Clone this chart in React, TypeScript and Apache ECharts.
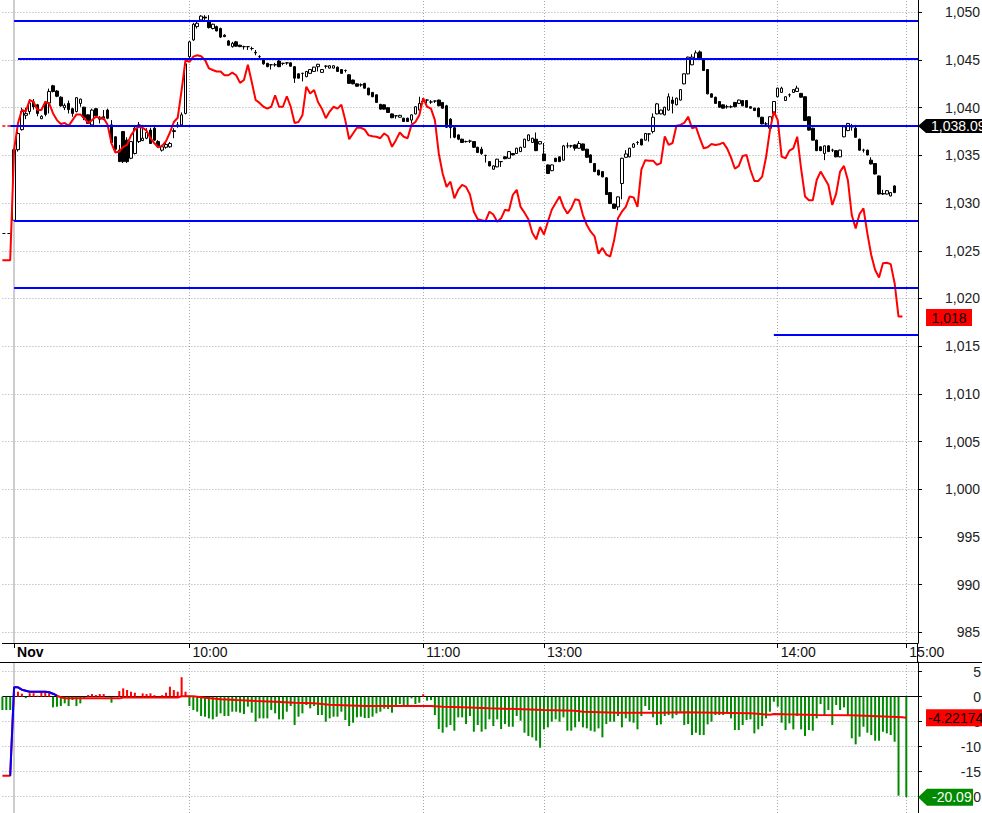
import React, { useEffect, useRef } from 'react';
import * as echarts from 'echarts';

// ---- axis slots (one slot per bar) ----
const SLOT_COUNT = 236;
const categories = Array.from({ length: SLOT_COUNT }, (_, i) => String(i));
const LAST_SLOT = SLOT_COUNT - 1;

// time tick labels: [slot index, label]
const timeTicks: [number, string][] = [
  [3, 'Nov'],
  [48, '10:00'],
  [108, '11:00'],
  [139, '13:00'],
  [199, '14:00'],
  [232, '15:00'],
];
const DAY_START = 3;

// ---- candles: [open, close, low, high], first one at slot DAY_START ----
const candles: [number, number, number, number][] = [
  [1028.2, 1035.6, 1028.2, 1035.7], [1035.6, 1037.3, 1035.4, 1037.5], [1037.7, 1039.6, 1037.6, 1040.0], [1039.2, 1039.4, 1038.8, 1040.0], [1039.6, 1040.5, 1039.3, 1040.9], // 3-7
  [1040.6, 1040.1, 1039.8, 1040.9], [1040.3, 1039.4, 1039.1, 1040.4], [1038.85, 1039.1, 1038.8, 1039.2], [1040.6, 1039.3, 1039.1, 1040.7], [1040.5, 1041.7, 1039.4, 1042.0], // 8-12
  [1042.3, 1041.7, 1041.6, 1042.4], [1041.75, 1041.2, 1041.1, 1041.85], [1041.1, 1040.2, 1040.1, 1041.2], [1040.0, 1040.25, 1039.75, 1040.45], [1040.45, 1039.8, 1039.4, 1040.75], // 13-17
  [1039.9, 1039.4, 1039.05, 1040.0], [1039.6, 1041.05, 1039.5, 1041.1], [1040.45, 1040.9, 1040.1, 1040.95], [1040.05, 1038.95, 1038.7, 1040.1], [1039.25, 1038.35, 1038.3, 1039.3], // 18-22
  [1038.2, 1039.75, 1038.1, 1039.9], [1039.9, 1039.15, 1039.0, 1039.95], [1038.8, 1039.0, 1038.35, 1039.1], [1039.05, 1038.8, 1038.7, 1039.75], [1039.75, 1038.9, 1038.8, 1039.9], // 23-27
  [1038.2, 1036.35, 1036.25, 1038.7], [1036.95, 1035.65, 1035.5, 1037.0], [1035.55, 1034.35, 1034.3, 1036.1], [1037.5, 1034.35, 1034.2, 1037.5], [1036.6, 1034.35, 1034.2, 1036.9], // 28-32
  [1034.7, 1036.45, 1034.6, 1036.5], [1035.2, 1037.85, 1035.1, 1038.0], [1036.45, 1038.2, 1036.3, 1038.5], [1036.55, 1036.8, 1036.5, 1038.2], [1036.8, 1037.4, 1036.7, 1037.85], // 33-37
  [1037.65, 1036.25, 1036.2, 1037.9], [1037.85, 1036.6, 1036.5, 1038.0], [1036.45, 1035.9, 1035.8, 1036.6], [1035.55, 1035.9, 1035.4, 1036.1], [1035.85, 1036.15, 1035.7, 1036.3], // 38-42
  [1035.9, 1036.25, 1035.8, 1036.4], [1037.5, 1037.6, 1036.8, 1037.85], [1038.1, 1038.2, 1037.9, 1038.5], [1038.2, 1039.25, 1038.0, 1039.5], [1039.4, 1044.6, 1039.3, 1044.7], // 43-47
  [1045.35, 1046.9, 1045.0, 1047.0], [1047.1, 1048.75, 1047.0, 1048.9], [1048.5, 1048.85, 1048.3, 1049.0], [1049.2, 1049.6, 1049.1, 1049.7], [1049.5, 1049.4, 1049.2, 1049.7], // 48-52
  [1049.0, 1048.4, 1048.3, 1049.7], [1048.3, 1048.75, 1048.2, 1048.8], [1048.5, 1048.05, 1048.0, 1048.6], [1048.3, 1047.4, 1047.3, 1048.4], [1047.6, 1047.45, 1047.4, 1047.7], // 53-57
  [1047.0, 1046.55, 1046.5, 1047.1], [1046.4, 1046.75, 1046.3, 1046.9], [1046.9, 1046.45, 1046.4, 1047.0], [1046.55, 1046.4, 1046.35, 1046.6], [1046.4, 1046.4, 1046.1, 1046.5], // 58-62
  [1046.4, 1046.4, 1046.05, 1046.45], [1046.2, 1046.2, 1046.0, 1046.4], [1045.8, 1045.75, 1045.5, 1046.05], [1045.35, 1045.35, 1045.2, 1045.5], [1045.0, 1044.6, 1044.5, 1045.1], // 63-67
  [1044.65, 1044.3, 1044.25, 1044.7], [1044.5, 1044.5, 1044.0, 1044.55], [1044.5, 1044.5, 1044.3, 1044.7], [1044.9, 1044.3, 1044.25, 1045.0], [1044.65, 1044.65, 1044.45, 1044.7], // 68-72
  [1044.7, 1044.7, 1044.5, 1044.75], [1044.7, 1044.35, 1044.3, 1044.75], [1044.3, 1043.1, 1042.6, 1044.35], [1043.55, 1043.1, 1043.05, 1043.6], [1043.6, 1043.6, 1042.75, 1043.65], // 73-77
  [1043.25, 1043.8, 1043.2, 1043.85], [1043.6, 1044.0, 1043.55, 1044.05], [1043.8, 1044.25, 1043.75, 1044.3], [1044.3, 1044.55, 1043.8, 1044.6], [1043.7, 1044.0, 1043.65, 1044.05], // 78-82
  [1044.35, 1044.35, 1044.1, 1044.45], [1044.15, 1044.4, 1044.1, 1044.45], [1044.15, 1044.4, 1044.1, 1044.45], [1044.25, 1043.8, 1043.75, 1044.3], [1044.0, 1043.6, 1043.55, 1044.05], // 83-87
  [1043.9, 1043.9, 1043.7, 1044.0], [1043.45, 1042.55, 1042.5, 1043.5], [1042.9, 1042.5, 1042.45, 1042.95], [1042.5, 1042.25, 1042.2, 1042.55], [1042.4, 1042.4, 1042.2, 1042.55], // 88-92
  [1042.55, 1042.05, 1042.0, 1042.6], [1042.05, 1041.35, 1041.3, 1042.1], [1041.6, 1041.15, 1041.1, 1041.65], [1041.35, 1040.55, 1040.5, 1041.4], [1040.35, 1039.85, 1039.8, 1040.4], // 93-97
  [1040.3, 1039.85, 1039.8, 1040.35], [1040.0, 1039.5, 1039.45, 1040.05], [1039.35, 1038.95, 1038.9, 1039.4], [1039.15, 1039.15, 1038.85, 1039.2], [1039.0, 1039.2, 1038.95, 1039.25], // 98-102
  [1038.9, 1038.55, 1038.5, 1038.95], [1038.9, 1038.55, 1038.5, 1038.95], [1038.7, 1039.25, 1038.35, 1039.3], [1039.35, 1040.1, 1039.3, 1040.15], [1039.75, 1040.45, 1039.7, 1041.15], // 103-107
  [1040.65, 1040.65, 1040.4, 1041.0], [1040.8, 1040.8, 1040.45, 1040.85], [1040.6, 1040.6, 1040.4, 1040.8], [1040.7, 1040.7, 1040.5, 1040.75], [1040.8, 1040.2, 1040.15, 1040.85], // 108-112
  [1040.55, 1039.95, 1039.9, 1040.6], [1040.2, 1037.95, 1037.9, 1040.3], [1038.8, 1037.9, 1036.8, 1038.9], [1037.9, 1036.9, 1036.8, 1038.0], [1037.15, 1036.7, 1036.6, 1037.2], // 113-117
  [1036.7, 1036.35, 1036.3, 1036.75], [1036.45, 1036.45, 1036.35, 1036.55], [1036.5, 1036.5, 1036.3, 1036.65], [1036.45, 1035.85, 1035.8, 1036.5], [1035.85, 1035.3, 1035.25, 1035.9], // 118-122
  [1035.65, 1035.2, 1035.05, 1035.9], [1035.0, 1035.0, 1034.25, 1035.05], [1034.35, 1033.9, 1033.85, 1034.4], [1033.55, 1033.9, 1033.5, 1033.95], [1033.8, 1034.6, 1033.75, 1034.65], // 123-127
  [1034.35, 1034.35, 1033.8, 1034.4], [1034.85, 1034.65, 1034.6, 1034.9], [1034.7, 1035.4, 1034.65, 1035.45], [1035.2, 1035.05, 1035.0, 1035.25], [1035.2, 1035.75, 1035.15, 1035.8], // 128-132
  [1035.4, 1035.85, 1035.35, 1035.9], [1035.85, 1036.7, 1035.8, 1036.75], [1036.55, 1037.15, 1036.5, 1037.2], [1036.35, 1036.8, 1036.3, 1036.85], [1036.7, 1035.5, 1035.45, 1037.4], // 133-137
  [1036.2, 1036.45, 1036.15, 1036.5], [1035.15, 1034.45, 1034.4, 1036.3], [1034.0, 1033.1, 1033.05, 1034.05], [1033.4, 1034.0, 1033.35, 1034.05], [1034.7, 1034.35, 1034.3, 1034.75], // 138-142
  [1034.85, 1034.35, 1034.3, 1034.9], [1034.5, 1036.0, 1034.45, 1036.1], [1036.0, 1036.0, 1035.75, 1036.35], [1036.0, 1036.0, 1035.8, 1036.1], [1036.1, 1035.75, 1035.5, 1036.15], // 143-147
  [1035.75, 1036.25, 1035.7, 1036.5], [1036.2, 1035.55, 1035.5, 1036.25], [1035.65, 1034.8, 1034.75, 1035.7], [1035.05, 1034.25, 1034.2, 1035.1], [1034.15, 1033.3, 1033.25, 1034.2], // 148-152
  [1033.45, 1032.95, 1032.9, 1033.5], [1033.3, 1032.75, 1032.7, 1033.35], [1032.65, 1030.9, 1030.85, 1032.7], [1031.1, 1029.95, 1029.9, 1031.15], [1029.9, 1029.45, 1029.4, 1029.95], // 153-157
  [1029.6, 1030.65, 1029.25, 1030.7], [1032.05, 1034.7, 1030.4, 1034.75], [1034.8, 1035.15, 1034.75, 1035.55], [1034.85, 1035.75, 1034.8, 1035.8], [1035.85, 1036.2, 1035.8, 1036.3], // 158-162
  [1036.35, 1036.35, 1036.1, 1036.5], [1036.7, 1036.1, 1036.05, 1036.75], [1036.6, 1037.3, 1036.55, 1037.35], [1037.25, 1037.25, 1036.45, 1037.3], [1037.5, 1039.0, 1037.3, 1039.4], // 163-167
  [1039.35, 1040.4, 1039.3, 1040.5], [1039.35, 1039.75, 1039.3, 1039.8], [1039.25, 1040.05, 1039.2, 1040.1], [1039.75, 1041.15, 1039.7, 1041.5], [1040.8, 1040.45, 1039.4, 1041.15], // 168-172
  [1040.3, 1041.0, 1040.25, 1041.05], [1040.8, 1041.9, 1040.75, 1041.95], [1042.5, 1043.55, 1042.45, 1043.6], [1043.55, 1045.3, 1043.5, 1045.35], [1044.5, 1045.3, 1044.45, 1045.6], // 173-177
  [1045.05, 1045.75, 1045.0, 1046.0], [1045.85, 1045.05, 1045.0, 1046.0], [1045.05, 1043.9, 1043.85, 1045.1], [1044.0, 1041.45, 1041.4, 1044.05], [1041.45, 1041.1, 1041.05, 1041.5], // 178-182
  [1041.1, 1040.45, 1040.4, 1041.15], [1040.65, 1040.05, 1040.0, 1040.7], [1040.3, 1039.95, 1039.9, 1040.35], [1040.1, 1040.1, 1039.9, 1040.3], [1040.1, 1040.1, 1039.95, 1040.25], // 183-187
  [1040.55, 1040.1, 1040.05, 1040.6], [1040.45, 1040.8, 1040.4, 1040.85], [1040.75, 1040.2, 1040.15, 1040.8], [1040.75, 1040.05, 1040.0, 1040.8], [1040.1, 1039.95, 1039.9, 1040.15], // 188-192
  [1039.95, 1039.7, 1039.65, 1040.0], [1039.95, 1039.05, 1039.0, 1040.0], [1039.0, 1038.3, 1038.25, 1039.05], [1038.3, 1038.3, 1038.0, 1038.5], [1037.85, 1039.05, 1037.8, 1039.1], // 193-197
  [1039.4, 1040.65, 1039.35, 1040.7], [1041.15, 1042.05, 1041.1, 1042.1], [1041.6, 1042.05, 1041.55, 1042.2], [1040.75, 1041.15, 1040.7, 1041.2], [1041.35, 1041.35, 1041.1, 1041.5], // 198-202
  [1041.6, 1041.9, 1041.55, 1041.95], [1041.7, 1042.05, 1041.65, 1042.3], [1041.5, 1041.1, 1041.05, 1041.55], [1041.15, 1038.65, 1038.6, 1041.2], [1039.05, 1037.65, 1037.6, 1039.1], // 203-207
  [1037.85, 1036.6, 1036.55, 1037.9], [1036.6, 1035.5, 1035.45, 1036.65], [1035.9, 1035.5, 1035.45, 1035.95], [1035.2, 1036.0, 1034.5, 1036.05], [1036.0, 1035.4, 1035.35, 1036.05], // 208-212
  [1035.55, 1035.55, 1035.35, 1035.7], [1035.5, 1034.85, 1034.8, 1035.55], [1034.85, 1035.55, 1034.8, 1035.6], [1036.95, 1038.0, 1036.9, 1038.05], [1037.6, 1038.35, 1037.55, 1038.4], // 213-217
  [1038.0, 1038.0, 1037.6, 1038.3], [1037.85, 1036.9, 1036.85, 1038.2], [1036.7, 1035.55, 1035.5, 1036.75], [1035.55, 1035.55, 1035.3, 1035.7], [1035.55, 1035.05, 1035.0, 1035.6], // 218-222
  [1034.5, 1034.1, 1034.05, 1034.8], [1034.15, 1033.05, 1033.0, 1034.2], [1032.85, 1030.95, 1030.9, 1032.9], [1031.0, 1030.95, 1030.85, 1031.4], [1030.95, 1031.3, 1030.9, 1031.35], // 223-227
  [1030.75, 1031.1, 1030.7, 1031.15], [1031.8, 1031.1, 1031.05, 1031.85], // 228-229
];

// ---- red comparison line (slot 0 onward) ----
const redLine: number[] = [
  1024.0, 1024.0, 1024.0, 1035.6, 1038.36, 1039.76, 1039.6, 1040.8, 1040.6, 1039.76,
  1039.76, 1040.6, 1040.45, 1039.4, 1038.7, 1038.3, 1038.4, 1038.1, 1038.7, 1039.3,
  1039.3, 1038.9, 1038.4, 1038.7, 1039.06, 1038.9, 1038.9, 1038.2, 1036.27, 1035.3,
  1035.4, 1035.9, 1036.1, 1037.1, 1037.7, 1038.0, 1037.9, 1037.6, 1036.8, 1036.27,
  1035.85, 1036.0, 1036.5, 1037.4, 1038.5, 1038.95, 1041.85, 1045.0, 1044.8, 1045.35,
  1045.5, 1045.4, 1045.0, 1044.13, 1043.95, 1043.8, 1043.8, 1043.4, 1043.4, 1043.67,
  1043.4, 1042.6, 1042.9, 1044.5, 1042.7, 1040.8, 1040.5, 1040.1, 1039.9, 1040.1,
  1041.3, 1040.1, 1040.1, 1041.2, 1040.1, 1038.4, 1038.5, 1039.2, 1042.2, 1041.5,
  1041.85, 1040.6, 1039.9, 1038.9, 1039.6, 1040.1, 1039.9, 1040.3, 1038.7, 1036.7,
  1037.3, 1037.9, 1037.9, 1037.7, 1037.1, 1037.0, 1036.96, 1036.8, 1037.3, 1037.0,
  1035.9, 1036.6, 1037.4, 1036.96, 1036.8, 1038.2, 1038.5, 1039.2, 1041.0, 1040.1,
  1039.9, 1038.7, 1035.2, 1033.1, 1031.7, 1032.25, 1030.5, 1031.4, 1031.9, 1031.7,
  1030.9, 1029.1, 1028.3, 1028.2, 1028.1, 1029.1, 1028.8, 1028.05, 1028.4, 1029.3,
  1029.2, 1030.85, 1031.4, 1029.6, 1029.0, 1028.3, 1026.9, 1026.2, 1027.5, 1026.7,
  1028.05, 1029.3, 1030.0, 1030.7, 1029.6, 1028.9, 1029.45, 1030.4, 1030.3, 1028.75,
  1027.7, 1027.0, 1026.5, 1024.7, 1025.3, 1024.6, 1024.4, 1026.1, 1028.4, 1029.1,
  1029.6, 1030.7, 1030.6, 1029.6, 1033.5, 1034.5, 1034.45, 1034.45, 1034.0, 1034.2,
  1037.0, 1036.1, 1036.3, 1038.1, 1038.2, 1038.4, 1039.06, 1037.84, 1038.0, 1036.8,
  1035.74, 1035.85, 1036.2, 1036.1, 1036.16, 1036.34, 1035.74, 1034.8, 1033.6, 1033.9,
  1034.94, 1035.04, 1033.47, 1032.32, 1032.32, 1032.77, 1034.8, 1037.66, 1039.6, 1038.7,
  1034.87, 1034.7, 1035.5, 1035.74, 1036.96, 1033.6, 1030.7, 1030.3, 1030.3, 1032.42,
  1033.3, 1032.6, 1031.9, 1029.8, 1031.0, 1033.3, 1033.9, 1032.4, 1028.75, 1027.35,
  1028.86, 1029.45, 1026.83, 1024.56, 1022.99, 1022.2, 1023.7, 1023.75, 1023.6, 1021.6,
  1018.1, 1018.1,
];

// horizontal levels: [value, start slot]
const blueLevels: [number, number][] = [
  [1049.12, 3],
  [1045.1, 4],
  [1038.09, 2],
  [1028.16, 3],
  [1021.13, 3],
  [1016.17, 198],
];
const prevCloseLevel = 1026.87;
const lastTagValue = 1038.09;
const redLastValue = 1018;

// ---- lower panel: oscillator histogram (slot 0 onward) ----
const oscBars: (number | string)[] = [
  -2.67, -2.67, -2.67, 0.8, 1.0, 0.6, -0.3, 0.7, 0.7, 0.2,
  1.0, 1.0, 0.7, -2.13, -2.0, -1.87, -1.33, -1.87, -0.67, -1.87,
  -1.33, -0.33, 0.33, 0.53, 0.33, 0.53, 0.53, -0.1, -1.2, 0.1,
  1.13, 1.67, 1.33, 1.0, 0.8, -0.1, 0.67, 0.53, 0.67, 0.3,
  -0.2, 0.3, 0.8, 2.0, 1.33, 1.0, 3.9, 1.0, -1.87, -2.67,
  -3.0, -3.87, -4.0, -4.33, -4.53, -4.0, -3.33, -3.87, -3.87, -3.0,
  -3.0, -3.2, -3.47, -2.0, -3.2, -5.0, -4.33, -4.33, -4.33, -2.67,
  -3.33, -4.53, -4.53, -3.0, -1.87, -5.67, -4.0, -3.33, -1.67, -2.33,
  -1.87, -3.67, -3.67, -5.0, -4.33, -4.0, -4.0, -3.0, -4.67, -5.87,
  -5.2, -4.13, -4.0, -4.27, -4.27, -4.0, -3.33, -3.0, -2.4, -2.47,
  -3.2, -2.0, -1.47, -2.0, -1.87, -0.33, -1.47, -1.2, 0.5, -0.8,
  -0.67, -3.67, -6.47, -7.2, -6.13, -5.67, -6.8, -4.13, -4.13, -5.47,
  -3.87, -7.0, -5.67, -7.0, -6.53, -4.53, -5.87, -4.53, -6.47, -5.47,
  -6.0, -6.0, -3.87, -4.8, -7.2, -7.87, -8.13, -8.8, -10.2, -6.53,
  -6.13, -5.0, -4.53, -5.0, -4.13, -6.8, -6.8, -6.13, -5.0, -6.13,
  -6.33, -6.8, -7.0, -6.33, -8.13, -5.47, -5.0, -5.0, -3.87, -6.13,
  -4.33, -5.0, -5.2, -6.53, -3.87, -1.87, -2.67, -4.13, -5.67, -5.53,
  -3.87, -3.67, -4.33, -3.67, -3.0, -5.67, -5.47, -7.67, -7.2, -7.67,
  -7.67, -5.53, -5.0, -3.67, -3.67, -3.67, -3.47, -4.33, -6.67, -6.67,
  -5.67, -4.67, -4.53, -7.33, -6.53, -5.87, -4.33, -3.0, -1.0, -2.0,
  -5.2, -6.67, -5.33, -6.53, -3.87, -6.53, -7.87, -6.67, -6.8, -4.33,
  -1.47, -3.67, -2.67, -5.67, -1.67, -2.67, -2.13, -3.87, -8.33, -9.53,
  -8.0, -6.0, -7.2, -7.67, -8.8, -8.8, -7.0, -7.33, -7.67, -9.0,
  -19.8, '-', -20.09,
];

// slow signal line (red) and fast line (blue): [slot, value]
const oscSignal: [number, number][] = [
  [0, -15.8], [2, -15.8], [3, 1.87], [4, 1.87], [5, 1.4], [6, 1.2], [7, 1.0], [11, 1.0], [12, 0.9], [13, 0.6],
  [14, 0.2], [15, -0.1], [16, -0.3], [22, -0.3], [23, -0.33], [30, -0.33], [31, -0.15], [45, -0.15], [46, 0.1], [49, 0.1],
  [52, -0.2], [56, -0.5], [60, -0.67], [65, -0.87], [70, -1.0], [75, -1.2], [80, -1.33], [84, -1.6], [93, -1.87], [110, -1.87],
  [113, -2.0], [118, -2.13], [125, -2.33], [132, -2.47], [139, -2.67], [147, -2.8], [149, -3.0], [158, -3.2], [169, -3.2], [175, -3.13],
  [183, -3.2], [192, -3.33], [197, -3.6], [198, -3.47], [201, -3.53], [209, -3.67], [218, -3.73], [223, -3.87], [231, -4.13], [232, -4.22],
];
const oscFast: [number, number][] = [
  [2, -15.8], [3, 1.87], [4, 1.87], [5, 1.4], [6, 1.2], [7, 1.0], [11, 1.0], [12, 0.9], [13, 0.6], [14, 0.2],
];
const signalLast = -4.22174;
const histLast = -20.09;

const FONT = 'Arial, "Liberation Sans", Helvetica, sans-serif';
const GRID_LINE = { color: '#a8a8a8', type: [1, 2] as number[], width: 1 };
const GREEN = '#008a00';
const RED = '#ff0000';
const BLUE = '#0000ff';

const tickIdx = timeTicks.map((t) => t[0]);
const gridIdx = tickIdx.filter((i) => i !== DAY_START);
const tickLabel: Record<number, string> = {};
timeTicks.forEach(([i, l]) => (tickLabel[i] = l));

const tagArrow = (w: number, h: number, head: number) =>
  `path://M0,${h / 2}L${head},0L${w},0L${w},${h}L${head},${h}Z`;

const isMultipleOf5 = (v: number) => Math.abs(v / 5 - Math.round(v / 5)) < 1e-6;

export default function App() {
  const ref = useRef<HTMLDivElement>(null);

  useEffect(() => {
    if (!ref.current) return;
    const chart = echarts.init(ref.current, undefined, { renderer: 'svg' });

    const candleData = candles.map((c, i) => [DAY_START + i, c[0], c[1], c[2], c[3]]);

    const xBase = {
      type: 'category',
      data: categories,
      boundaryGap: false,
      splitLine: { show: true, interval: (i: number) => gridIdx.includes(i), lineStyle: GRID_LINE },
    };

    const option: any = {
      animation: false,
      backgroundColor: '#ffffff',
      textStyle: { fontFamily: FONT },
      grid: [
        { left: 2.4, right: 64, top: -2, height: 645, containLabel: false, outerBoundsMode: 'none' },
        { left: 2.4, right: 64, top: 662, height: 160, containLabel: false, outerBoundsMode: 'none' },
      ],
      xAxis: [
        {
          ...xBase,
          gridIndex: 0,
          position: 'bottom',
          axisLine: { show: true, onZero: false, lineStyle: { color: '#000', width: 1 } },
          axisTick: { show: true, interval: (i: number) => tickIdx.includes(i), length: 5, lineStyle: { color: '#000' } },
          axisLabel: {
            show: true,
            interval: (i: number) => tickIdx.includes(i),
            formatter: (v: string) => {
              const l = tickLabel[Number(v)] || '';
              return l === 'Nov' ? '{b|Nov}' : l;
            },
            align: 'left',
            margin: 2,
            padding: [0, 0, 0, 3],
            color: '#111',
            fontSize: 14,
            fontFamily: FONT,
            rich: { b: { fontWeight: 'bold', fontSize: 14, color: '#000', fontFamily: FONT } },
          },
        },
        {
          ...xBase,
          gridIndex: 1,
          position: 'top',
          axisLine: { show: true, onZero: false, lineStyle: { color: '#000', width: 1 } },
          axisTick: { show: false },
          axisLabel: { show: false },
        },
      ],
      yAxis: [
        {
          type: 'value',
          gridIndex: 0,
          position: 'right',
          min: 983.888,
          max: 1051.499,
          minInterval: 5,
          maxInterval: 5,
          splitNumber: 13,
          axisLine: { show: true, onZero: false, lineStyle: { color: '#000' } },
          axisTick: { show: true, length: 4, lineStyle: { color: '#000' } },
          axisLabel: {
            show: true,
            showMinLabel: false,
            showMaxLabel: false,
            align: 'right',
            margin: 62,
            fontSize: 14,
            color: '#222',
            fontFamily: FONT,
            formatter: (v: number) => (isMultipleOf5(v) ? Math.round(v).toLocaleString('en-US') : ''),
          },
          splitLine: { show: true, lineStyle: GRID_LINE },
        },
        {
          type: 'value',
          gridIndex: 1,
          position: 'right',
          min: -25.06,
          max: 6.94,
          minInterval: 5,
          maxInterval: 5,
          splitNumber: 6,
          axisLine: { show: true, onZero: false, lineStyle: { color: '#000' } },
          axisTick: { show: true, length: 4, lineStyle: { color: '#000' } },
          axisLabel: {
            show: true,
            showMinLabel: false,
            showMaxLabel: false,
            align: 'right',
            margin: 63,
            fontSize: 14,
            color: '#222',
            fontFamily: FONT,
            formatter: (v: number) => (isMultipleOf5(v) && v > -22 ? String(Math.round(v)) : ''),
          },
          splitLine: { show: true, lineStyle: GRID_LINE },
        },
      ],
      series: [
        {
          type: 'candlestick',
          xAxisIndex: 0,
          yAxisIndex: 0,
          data: candleData,
          encode: { x: 0, y: [1, 2, 3, 4] },
          barWidth: 3,
          silent: true,
          z: 2,
          itemStyle: { color: '#ffffff', color0: '#000000', borderColor: '#000000', borderColor0: '#000000', borderWidth: 1 },
          markLine: {
            silent: true,
            symbol: ['none', 'none'],
            z: 1,
            label: { show: false },
            lineStyle: { color: '#bdbdbd', type: 'solid', width: 1.5 },
            data: [{ xAxis: DAY_START }],
          },
        },
        {
          type: 'line',
          xAxisIndex: 0,
          yAxisIndex: 0,
          data: redLine,
          symbol: 'none',
          showSymbol: false,
          silent: true,
          z: 3,
          lineStyle: { color: RED, width: 2 },
          markLine: {
            silent: true,
            symbol: ['none', 'none'],
            label: { show: false },
            emphasis: { disabled: true },
            data: [
              ...blueLevels.map(([v, s]) => [
                { coord: [s, v], lineStyle: { color: BLUE, width: 2, type: 'solid' } },
                { coord: [LAST_SLOT, v] },
              ]),
              [
                { coord: [0, prevCloseLevel], lineStyle: { color: '#000', width: 1, type: [3, 2] } },
                { coord: [2, prevCloseLevel] },
              ],
              [
                { coord: [0, lastTagValue], lineStyle: { color: RED, width: 1.5, type: [3, 2] } },
                { coord: [2, lastTagValue] },
              ],
            ],
          },
          markPoint: {
            silent: true,
            data: [
              {
                coord: [LAST_SLOT, lastTagValue],
                symbol: tagArrow(70, 14, 8),
                symbolSize: [70, 14],
                symbolOffset: [35, 0],
                itemStyle: { color: '#000' },
                label: {
                  show: true,
                  position: 'insideLeft',
                  distance: 13,
                  color: '#fff',
                  fontSize: 14,
                  fontFamily: FONT,
                  formatter: () => lastTagValue.toLocaleString('en-US', { minimumFractionDigits: 2 }),
                },
              },
              {
                coord: [LAST_SLOT, redLastValue],
                symbol: 'rect',
                symbolSize: [46, 17],
                symbolOffset: [31, 0],
                itemStyle: { color: RED },
                label: {
                  show: true,
                  position: 'inside',
                  color: '#000',
                  fontSize: 14,
                  fontFamily: FONT,
                  formatter: () => redLastValue.toLocaleString('en-US'),
                },
              },
            ],
          },
        },
        {
          type: 'bar',
          xAxisIndex: 1,
          yAxisIndex: 1,
          data: oscBars,
          barWidth: 2,
          silent: true,
          z: 2,
          itemStyle: { color: (p: any) => (Number(p.value) >= 0 ? RED : GREEN) },
          markLine: {
            silent: true,
            symbol: ['none', 'none'],
            z: 1,
            label: { show: false },
            data: [
              { yAxis: 0, lineStyle: { color: '#000', width: 1, type: 'solid' } },
              { xAxis: DAY_START, lineStyle: { color: '#bdbdbd', width: 1.5, type: 'solid' } },
            ],
          },
          markPoint: {
            silent: true,
            data: [
              {
                coord: [LAST_SLOT, histLast],
                symbol: tagArrow(55, 17, 9),
                symbolSize: [55, 17],
                symbolOffset: [27.5, 0],
                itemStyle: { color: GREEN },
                label: {
                  show: true,
                  position: 'insideLeft',
                  distance: 14,
                  color: '#fff',
                  fontSize: 14,
                  fontFamily: FONT,
                  formatter: () => String(histLast),
                },
              },
            ],
          },
        },
        {
          type: 'line',
          xAxisIndex: 1,
          yAxisIndex: 1,
          data: oscSignal,
          symbol: 'none',
          showSymbol: false,
          silent: true,
          z: 3,
          lineStyle: { color: RED, width: 2 },
          markPoint: {
            silent: true,
            data: [
              {
                coord: [LAST_SLOT, signalLast],
                symbol: 'rect',
                symbolSize: [62, 17],
                symbolOffset: [39, 0],
                itemStyle: { color: RED },
                label: {
                  show: true,
                  position: 'insideLeft',
                  distance: 2,
                  color: '#000',
                  fontSize: 14,
                  fontFamily: FONT,
                  formatter: () => String(signalLast),
                },
              },
            ],
          },
        },
        {
          type: 'line',
          xAxisIndex: 1,
          yAxisIndex: 1,
          data: oscFast,
          symbol: 'none',
          showSymbol: false,
          silent: true,
          z: 4,
          lineStyle: { color: BLUE, width: 2 },
        },
      ],
      graphic: [
        { type: 'line', z: 100, silent: true, shape: { x1: 0, y1: 662.5, x2: 982, y2: 662.5 }, style: { stroke: '#000', lineWidth: 1 } },
        { type: 'line', z: 100, silent: true, shape: { x1: 917.5, y1: 643, x2: 917.5, y2: 662 }, style: { stroke: '#000', lineWidth: 1 } },
      ],
    };

    chart.setOption(option);
    return () => chart.dispose();
  }, []);

  return (
    <div
      ref={ref}
      style={{ position: 'fixed', left: 0, top: 0, width: 982, height: 813, background: '#fff' }}
    />
  );
}
